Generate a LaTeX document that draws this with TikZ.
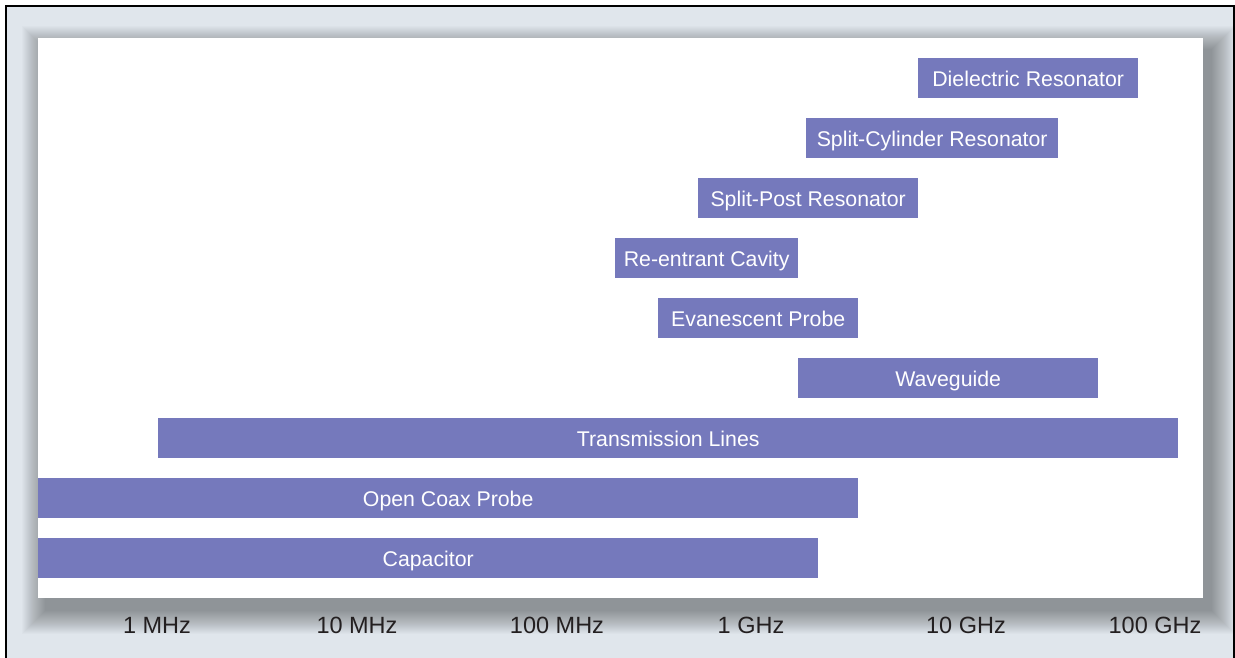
\documentclass[tikz,border=0pt]{standalone}
\usepackage{fontspec}
\setmainfont{Liberation Sans}
\usepackage{xcolor}
\definecolor{backblue}{RGB}{224,230,236}
\definecolor{barblue}{RGB}{117,121,188}
\definecolor{ticktext}{RGB}{35,31,32}
\usepackage{tikz}
\newcommand{\barheight}{40}
\tikzset{
    method/.style={anchor=west, fill=barblue, text=white, inner sep=0pt,
        minimum height=\barheight, text height=16.5, text depth=0,
        font=\fontsize{21.3}{25}\selectfont},
    freq/.style={text=ticktext, inner sep=0pt, text height=16.8, text depth=0,
        font=\fontsize{23.5}{28}\selectfont},
    shade/.style={fill=black, opacity=0.015}
}

\begin{document}
\begin{tikzpicture}[x=1pt, y=-1pt]
    \useasboundingbox (0,0) rectangle (1235,657);
    \clip (0,0) rectangle (1235,657);
    \fill[white] (0,0) rectangle (1235,657);
    \draw[fill=backblue, line width=1.5] (6,6) rectangle (1234,680);

    % soft shadow of the chart panel
    \foreach \s in {1,...,24}
        \fill[shade] (46-\s,50-\s) rectangle (1211+\s,610+\s);
    \fill[white] (38,38) node[anchor=north west, inner sep=0pt, minimum width=1165, minimum height=560] (panel) {} rectangle (1203,598);

    % bars, one row each
    \node[method, minimum width=220] (dielectric) at (918,78) {Dielectric Resonator};
    \node[method, minimum width=252] (splitcyl) at (806,138) {Split-Cylinder Resonator};
    \node[method, minimum width=220] (splitpost) at (698,198) {Split-Post Resonator};
    \node[method, minimum width=183] (reentrant) at (615,258) {Re-entrant Cavity};
    \node[method, minimum width=200] (evanescent) at (658,318) {Evanescent Probe};
    \node[method, minimum width=300] (waveguide) at (798,378) {Waveguide};
    \node[method, minimum width=1020] (transmission) at (158,438) {Transmission Lines};
    \node[method, minimum width=820] (coax) at (38,498) {Open Coax Probe};
    \node[method, minimum width=780] (capacitor) at (38,558) {Capacitor};

    % frequency axis
    \node[freq] (f1M) at (157,625) {1 MHz};
    \node[freq] (f10M) at (357,625) {10 MHz};
    \node[freq] (f100M) at (557,625) {100 MHz};
    \node[freq] (f1G) at (751,625) {1 GHz};
    \node[freq] (f10G) at (966,625) {10 GHz};
    \node[freq] (f100G) at (1155,625) {100 GHz};
\end{tikzpicture}
\end{document}
